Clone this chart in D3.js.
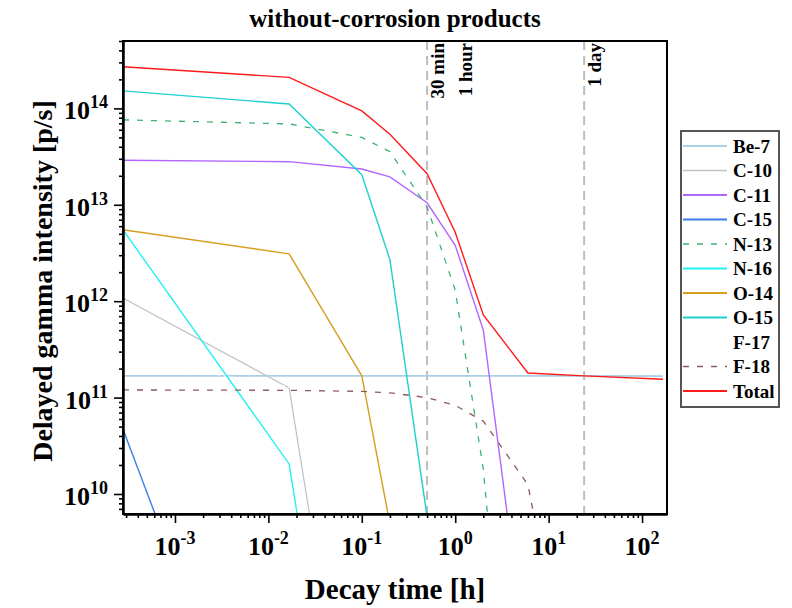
<!DOCTYPE html>
<html>
<head>
<meta charset="utf-8">
<script src="https://cdn.jsdelivr.net/npm/d3@7"></script>
<style>
  body { margin: 0; background: #fff; }
  text { font-family: "Liberation Serif", "DejaVu Serif", serif; font-weight: bold; }
</style>
</head>
<body>
<div id="chart"></div>
<script>
// Data (decay time in hours, intensity in p/s)
const times = [1 / 3600, 1 / 60, 0.1, 0.2, 0.5, 1, 2, 6, 24, 168];
const be7 = [1.68e11, 1.68e11, 1.68e11, 1.68e11, 1.68e11, 1.68e11, 1.68e11, 1.68e11, 1.68e11, 1.67e11];
const c10 = [1.08e12, 1.26e11, 2.7e6, null, null, null, null, null, null, null];
const c11 = [2.9e13, 2.8e13, 2.35e13, 1.95e13, 1.05e13, 3.8e12, 5e11, 1.4e8, null, null];
const c15 = [4.7e10, 1.3e6, null, null, null, null, null, null, null, null];
const n13 = [7.6e13, 6.9e13, 5.0e13, 3.55e13, 9.5e12, 1.3e12, 1.8e10, 1.7e5, null, null];
const n16 = [5.5e12, 2.05e10, 4.4e5, null, null, null, null, null, null, null];
const o14 = [5.5e12, 3.1e12, 1.68e11, 4.9e9, null, null, null, null, null, null];
const o15 = [1.52e14, 1.11e14, 2.05e13, 2.7e12, 5.8e9, null, null, null, null, null];
const f17 = [2.5e11, 1.3e11, 5e9, null, null, null, null, null, null, null];
const f18 = [1.2e11, 1.19e11, 1.16e11, 1.12e11, 1.0e11, 8.3e10, 5.7e10, 1.25e10, 1.3e7, null];
const total = [2.7e14, 2.1e14, 9.4e13, 5.4e13, 2.1e13, 5.2e12, 7.2e11, 1.8e11, 1.68e11, 1.55e11];

const seriesNames = ["Be-7", "C-10", "C-11", "C-15", "N-13", "N-16", "O-14", "O-15", "F-17", "F-18", "Total"];
const seriesValues = [be7, c10, c11, c15, n13, n16, o14, o15, f17, f18, total];

const markerTimes = [0.5, 1, 24];
const markerLabels = ["30 min", "1 hour", "1 day"];
const markerHasLine = [true, false, true];

const xExponents = [-3, -2, -1, 0, 1, 2];
const yExponents = [10, 11, 12, 13, 14];

// Styles
const colors = ["#a8d0e6", "#c4c4c4", "#b266ff", "#3a7ee8", "#3cb371", "#22f2f2", "#d4a020", "#1fcfcf", "#fbfbfb", "#8c5a5a", "#ff1a1a"];
const dashes = [null, null, null, null, "6,8", null, null, null, "2,4", "6,8", null];
const widths = [1.8, 1.3, 1.4, 1.4, 1.3, 1.4, 1.4, 1.4, 1.3, 1.3, 1.4];

function draw() {
  let dimensions = {
    width: 792,
    height: 608,
    left: 123,
    right: 125,
    top: 41,
    bottom: 94,
  };
  dimensions.ctrWidth = dimensions.width - dimensions.left - dimensions.right;
  dimensions.ctrHeight = dimensions.height - dimensions.top - dimensions.bottom;

  const svg = d3
    .select("#chart")
    .append("svg")
    .attr("width", dimensions.width)
    .attr("height", dimensions.height);

  const ctr = svg
    .append("g")
    .attr("transform", `translate(${dimensions.left}, ${dimensions.top})`);

  // Scales
  const xScale = d3
    .scaleLog()
    .domain([1 / 3600, 185])
    .range([0, dimensions.ctrWidth]);

  const yScale = d3
    .scaleLog()
    .domain([6.2e9, 5e14])
    .range([dimensions.ctrHeight, 0]);

  svg
    .append("defs")
    .append("clipPath")
    .attr("id", "plot-clip")
    .append("rect")
    .attr("width", dimensions.ctrWidth)
    .attr("height", dimensions.ctrHeight);

  // Reference lines
  const markers = ctr.append("g");
  markers
    .selectAll("line")
    .data(markerTimes.filter((d, i) => markerHasLine[i]))
    .join("line")
    .attr("x1", (d) => xScale(d))
    .attr("x2", (d) => xScale(d))
    .attr("y1", 0)
    .attr("y2", dimensions.ctrHeight)
    .attr("stroke", "#bdbdbd")
    .attr("stroke-width", 2)
    .attr("stroke-dasharray", "9,6");

  markers
    .selectAll("text")
    .data(markerTimes)
    .join("text")
    .attr("transform", (d) => `translate(${xScale(d) + 17}, 2) rotate(-90)`)
    .attr("text-anchor", "end")
    .attr("font-size", 19)
    .text((d, i) => markerLabels[i]);

  // Curves
  const line = d3
    .line()
    .defined((d) => d.v != null)
    .x((d) => xScale(d.t))
    .y((d) => yScale(d.v));

  const curves = ctr.append("g").attr("clip-path", "url(#plot-clip)");
  curves
    .selectAll("path")
    .data(seriesValues)
    .join("path")
    .attr("d", (vals) => line(vals.map((v, i) => ({ t: times[i], v: v }))))
    .attr("fill", "none")
    .attr("stroke", (d, i) => colors[i])
    .attr("stroke-width", (d, i) => widths[i])
    .attr("stroke-dasharray", (d, i) => dashes[i]);

  // Axes
  const xMinor = [];
  for (let e = -4; e <= 2; e++) {
    for (let k = 2; k <= 9; k++) {
      const t = k * Math.pow(10, e);
      if (t >= xScale.domain()[0] && t <= xScale.domain()[1]) xMinor.push(t);
    }
  }
  const yMinor = [];
  for (let e = 9; e <= 14; e++) {
    for (let k = 2; k <= 9; k++) {
      const v = k * Math.pow(10, e);
      if (v >= yScale.domain()[0] && v <= yScale.domain()[1]) yMinor.push(v);
    }
  }

  const xAxisG = ctr
    .append("g")
    .attr("transform", `translate(0, ${dimensions.ctrHeight})`);
  xAxisG.append("g").call(
    d3.axisBottom(xScale).tickValues(xMinor).tickSize(4).tickSizeOuter(0).tickFormat("")
  );
  xAxisG.append("g").call(
    d3
      .axisBottom(xScale)
      .tickValues(xExponents.map((e) => Math.pow(10, e)))
      .tickSize(9)
      .tickSizeOuter(0)
      .tickFormat("")
  );

  const yAxisG = ctr.append("g");
  yAxisG.append("g").call(
    d3.axisLeft(yScale).tickValues(yMinor).tickSize(4).tickSizeOuter(0).tickFormat("")
  );
  yAxisG.append("g").call(
    d3
      .axisLeft(yScale)
      .tickValues(yExponents.map((e) => Math.pow(10, e)))
      .tickSize(9)
      .tickSizeOuter(0)
      .tickFormat("")
  );

  ctr.selectAll(".tick line").attr("stroke", "#000").attr("stroke-width", 1.6);
  ctr.selectAll(".domain").attr("stroke", "#000").attr("stroke-width", 2);

  // Tick labels with superscripts
  const xLabels = xAxisG
    .append("g")
    .selectAll("text")
    .data(xExponents)
    .join("text")
    .attr("x", (d) => xScale(Math.pow(10, d)))
    .attr("y", 41)
    .attr("text-anchor", "middle")
    .attr("font-size", 26);
  xLabels.append("tspan").text("10");
  xLabels.append("tspan").attr("dy", -11).attr("font-size", 18).text((d) => d);

  const yLabels = yAxisG
    .append("g")
    .selectAll("text")
    .data(yExponents)
    .join("text")
    .attr("x", -15)
    .attr("y", (d) => yScale(Math.pow(10, d)) + 11)
    .attr("text-anchor", "end")
    .attr("font-size", 26);
  yLabels.append("tspan").text("10");
  yLabels.append("tspan").attr("dy", -11).attr("font-size", 18).text((d) => d);

  // Frame
  ctr
    .append("rect")
    .attr("width", dimensions.ctrWidth)
    .attr("height", dimensions.ctrHeight)
    .attr("fill", "none")
    .attr("stroke", "#000")
    .attr("stroke-width", 2);

  // Titles
  svg
    .append("text")
    .attr("x", dimensions.left + dimensions.ctrWidth / 2)
    .attr("y", 27)
    .attr("text-anchor", "middle")
    .attr("font-size", 25)
    .text("without-corrosion products");

  svg
    .append("text")
    .attr("x", dimensions.left + dimensions.ctrWidth / 2)
    .attr("y", 599)
    .attr("text-anchor", "middle")
    .attr("font-size", 29)
    .text("Decay time [h]");

  svg
    .append("text")
    .attr("transform", "translate(52, 281) rotate(-90)")
    .attr("text-anchor", "middle")
    .attr("font-size", 28)
    .text("Delayed gamma intensity [p/s]");

  // Legend
  const legend = svg.append("g").attr("transform", "translate(681, 131)");
  legend
    .append("rect")
    .attr("width", 98)
    .attr("height", 276)
    .attr("fill", "#fff")
    .attr("stroke", "#555")
    .attr("stroke-width", 2);

  const items = legend
    .selectAll("g.item")
    .data(seriesNames)
    .join("g")
    .attr("class", "item")
    .attr("transform", (d, i) => `translate(0, ${15 + i * 24.5})`);

  items
    .append("line")
    .attr("x1", 2)
    .attr("x2", 46)
    .attr("stroke", (d, i) => colors[i])
    .attr("stroke-width", (d, i) => widths[i] + 0.4)
    .attr("stroke-dasharray", (d, i) => dashes[i]);

  items
    .append("text")
    .attr("x", 52)
    .attr("y", 6.5)
    .attr("font-size", 19)
    .text((d) => d);
}

draw();
</script>
</body>
</html>
